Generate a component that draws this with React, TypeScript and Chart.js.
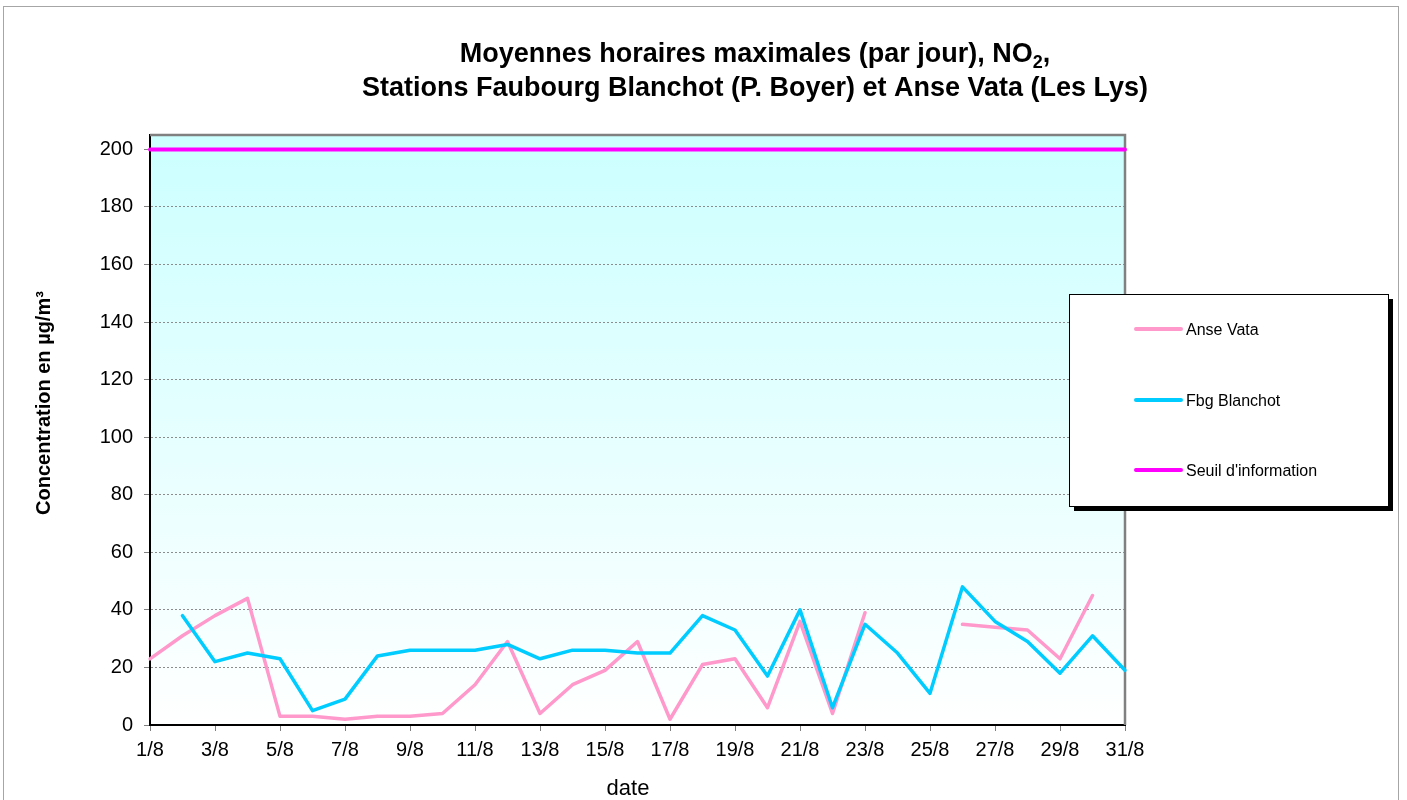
import React, { useEffect, useRef } from 'react';
import { Chart, registerables } from 'chart.js';

Chart.register(...registerables);

const dateLabels = [
  '1/8', '2/8', '3/8', '4/8', '5/8', '6/8', '7/8', '8/8', '9/8', '10/8',
  '11/8', '12/8', '13/8', '14/8', '15/8', '16/8', '17/8', '18/8', '19/8', '20/8',
  '21/8', '22/8', '23/8', '24/8', '25/8', '26/8', '27/8', '28/8', '29/8', '30/8', '31/8',
];

const anseVata = [
  23, 31, 38, 44, 3, 3, 2, 3, 3, 4,
  14, 29, 4, 14, 19, 29, 2, 21, 23, 6,
  36, 4, 39, null, null, 35, 34, 33, 23, 45, null,
];

const fbgBlanchot = [
  null, 38, 22, 25, 23, 5, 9, 24, 26, 26,
  26, 28, 23, 26, 26, 25, 25, 38, 33, 17,
  40, 6, 35, 25, 11, 48, 36, 29, 18, 31, 19,
];

const seuilInformation = [
  200, 200, 200, 200, 200, 200, 200, 200, 200, 200,
  200, 200, 200, 200, 200, 200, 200, 200, 200, 200,
  200, 200, 200, 200, 200, 200, 200, 200, 200, 200, 200,
];

const seriesNames = ['Anse Vata', 'Fbg Blanchot', "Seuil d'information"];
const seriesColors = ['#FF99CC', '#00CCFF', '#FF00FF'];

const titleLine1Main = 'Moyennes horaires maximales (par jour), NO';
const titleLine1Sub = '2';
const titleLine1Tail = ',';
const titleLine2 = 'Stations Faubourg Blanchot (P. Boyer) et Anse Vata (Les Lys)';
const yAxisTitle = 'Concentration en µg/m³';
const xAxisTitle = 'date';

const FONT = '"Liberation Sans", Arial, sans-serif';

const decorPlugin = {
  id: 'decor',
  beforeDraw(chart: any) {
    const { ctx, chartArea: a, width, height } = chart;
    ctx.save();
    ctx.fillStyle = '#ffffff';
    ctx.fillRect(0, 0, width, height);
    ctx.strokeStyle = '#a6a6a6';
    ctx.lineWidth = 1;
    ctx.strokeRect(3.5, 6.5, 1395, 820);
    const g = ctx.createLinearGradient(0, a.top, 0, a.bottom);
    g.addColorStop(0, '#CCFFFF');
    g.addColorStop(1, '#FFFFFF');
    ctx.fillStyle = g;
    ctx.fillRect(a.left, a.top, a.right - a.left, a.bottom - a.top);
    ctx.restore();
  },
  beforeDatasetsDraw(chart: any) {
    const { ctx, chartArea: a } = chart;
    ctx.save();
    ctx.strokeStyle = '#808080';
    ctx.lineWidth = 2.5;
    ctx.beginPath();
    ctx.moveTo(a.left, a.top);
    ctx.lineTo(a.right, a.top);
    ctx.lineTo(a.right, a.bottom);
    ctx.stroke();
    ctx.restore();
  },
  afterDraw(chart: any) {
    const { ctx } = chart;
    ctx.save();
    ctx.fillStyle = '#000000';
    const cx = 755;
    ctx.font = `bold 27px ${FONT}`;
    const w1 = ctx.measureText(titleLine1Main).width;
    const wt = ctx.measureText(titleLine1Tail).width;
    ctx.font = `bold 18px ${FONT}`;
    const ws = ctx.measureText(titleLine1Sub).width;
    const total = w1 + ws + wt;
    let x = cx - total / 2;
    ctx.textAlign = 'left';
    ctx.textBaseline = 'alphabetic';
    ctx.font = `bold 27px ${FONT}`;
    ctx.fillText(titleLine1Main, x, 62);
    x += w1;
    ctx.font = `bold 18px ${FONT}`;
    ctx.fillText(titleLine1Sub, x, 68);
    x += ws;
    ctx.font = `bold 27px ${FONT}`;
    ctx.fillText(titleLine1Tail, x, 62);
    ctx.textAlign = 'center';
    ctx.fillText(titleLine2, cx, 96);

    ctx.save();
    ctx.translate(50, 403);
    ctx.rotate(-Math.PI / 2);
    ctx.font = `bold 20px ${FONT}`;
    ctx.textAlign = 'center';
    ctx.textBaseline = 'alphabetic';
    ctx.fillText(yAxisTitle, 0, 0);
    ctx.restore();

    ctx.font = `22px ${FONT}`;
    ctx.textAlign = 'center';
    ctx.textBaseline = 'alphabetic';
    ctx.fillText(xAxisTitle, 628, 795);

    const bx = 1069, by = 294, bw = 319, bh = 212;
    ctx.fillStyle = '#000000';
    ctx.fillRect(bx + 5, by + 5, bw, bh);
    ctx.fillStyle = '#ffffff';
    ctx.fillRect(bx, by, bw, bh);
    ctx.strokeStyle = '#000000';
    ctx.lineWidth = 1;
    ctx.strokeRect(bx + 0.5, by + 0.5, bw, bh);
    const rows = [329, 400, 470];
    chart.data.datasets.forEach((ds: any, i: number) => {
      const ry = rows[i];
      ctx.strokeStyle = ds.borderColor;
      ctx.lineWidth = 4;
      ctx.lineCap = 'round';
      ctx.beginPath();
      ctx.moveTo(1136, ry);
      ctx.lineTo(1181, ry);
      ctx.stroke();
      ctx.fillStyle = '#000000';
      ctx.font = `16px ${FONT}`;
      ctx.textAlign = 'left';
      ctx.textBaseline = 'alphabetic';
      ctx.fillText(ds.label, 1186, ry + 5.5);
    });
    ctx.restore();
  },
};

export default function App() {
  const canvasRef = useRef<HTMLCanvasElement | null>(null);

  useEffect(() => {
    document.body.style.margin = '0';
    const canvas = canvasRef.current;
    if (!canvas) return;
    const datasetsData = [anseVata, fbgBlanchot, seuilInformation];
    const orders = [3, 2, 1];
    const chart = new Chart(canvas, {
      type: 'line',
      data: {
        labels: dateLabels,
        datasets: datasetsData.map((d, i) => ({
          label: seriesNames[i],
          data: d,
          borderColor: seriesColors[i],
          backgroundColor: seriesColors[i],
          borderWidth: i === 2 ? 4 : 3.5,
          pointRadius: 0,
          pointHoverRadius: 0,
          tension: 0,
          spanGaps: false,
          fill: false,
          borderJoinStyle: 'round' as const,
          borderCapStyle: 'round' as const,
          order: orders[i],
        })),
      },
      options: {
        responsive: false,
        animation: false,
        events: [],
        layout: { padding: { left: 0, top: 135, right: 282, bottom: 0 } },
        plugins: {
          legend: { display: false },
          title: { display: false },
          tooltip: { enabled: false },
        },
        scales: {
          x: {
            type: 'category',
            offset: false,
            grid: {
              drawOnChartArea: false,
              drawTicks: true,
              tickLength: 6,
              tickWidth: 1,
              tickColor: (c: any) => (c.index % 2 === 0 ? '#808080' : 'rgba(0,0,0,0)'),
            },
            border: { display: true, color: '#000000', width: 2 },
            ticks: {
              autoSkip: false,
              maxRotation: 0,
              minRotation: 0,
              padding: 7,
              color: '#000000',
              font: { family: FONT, size: 20 },
              callback: (_v: any, index: number) => (index % 2 === 0 ? dateLabels[index] : ''),
            },
            afterFit: (s: any) => {
              s.height = 75;
            },
          },
          y: {
            type: 'linear',
            min: 0,
            max: 205,
            grid: {
              drawOnChartArea: true,
              color: '#8c8c8c',
              lineWidth: 1,
              tickLength: 6,
              tickColor: '#808080',
              tickBorderDash: [],
            },
            border: { display: true, color: '#000000', width: 2, dash: [2, 2] },
            ticks: {
              stepSize: 20,
              includeBounds: false,
              padding: 11,
              color: '#000000',
              font: { family: FONT, size: 20 },
            },
            afterFit: (s: any) => {
              s.width = 150;
            },
          },
        },
      },
      plugins: [decorPlugin],
    });
    return () => chart.destroy();
  }, []);

  return (
    <div style={{ width: 1407, height: 800 }}>
      <canvas ref={canvasRef} width={1407} height={800} style={{ display: 'block' }} />
    </div>
  );
}
